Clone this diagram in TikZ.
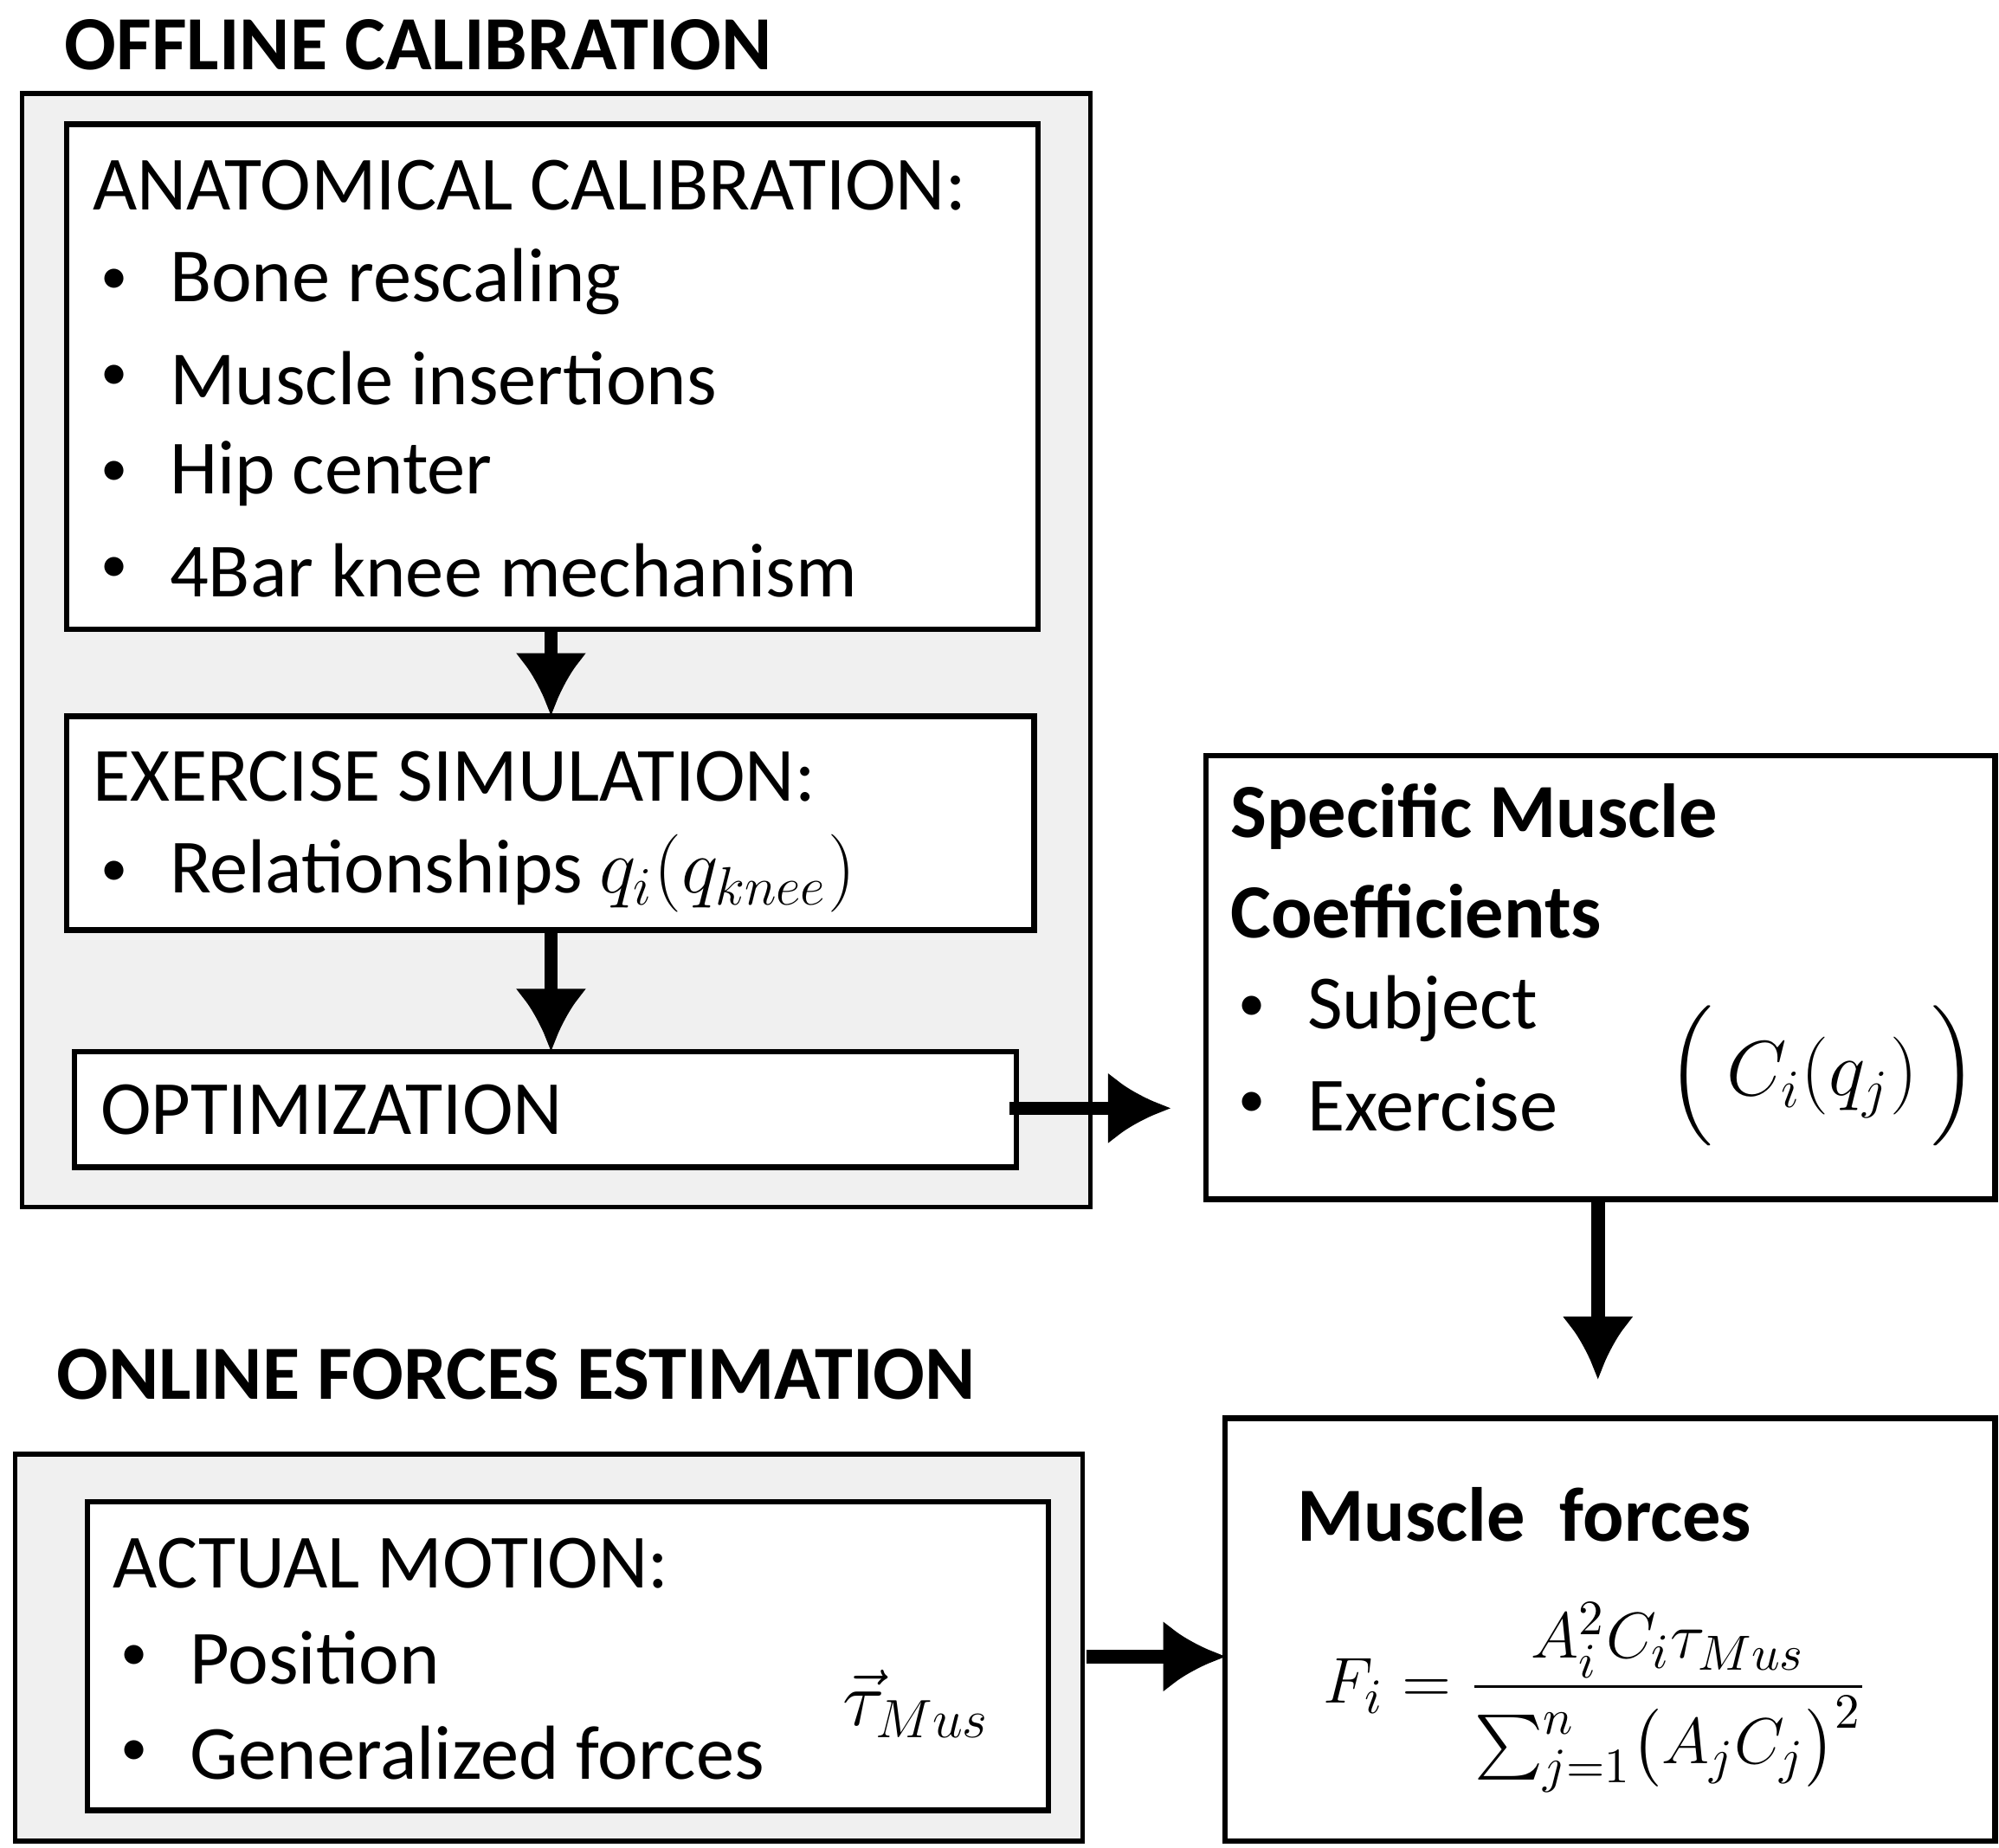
\documentclass[tikz,border=0pt]{standalone}
\usepackage{fontspec}
\setmainfont{Carlito}
\usepackage{amsmath}
\usetikzlibrary{arrows.meta}
\begin{document}
\begin{tikzpicture}[x=0.01cm,y=-0.01cm,
 box/.style={draw,line width=1.2pt,fill=white},
 gbox/.style={draw,line width=1pt,fill=gray!12},
 arr/.style={line width=3pt,-{Latex[length=14pt,width=16pt]}},
 txt/.style={anchor=west,font=\fontsize{17}{28}\selectfont,align=left},
 bul/.style={anchor=west,font=\fontsize{12}{14}\selectfont},
 ttl/.style={anchor=west,font=\fontsize{17}{20}\selectfont\bfseries}]
\useasboundingbox (0,0) rectangle (1560,1442);
\node[ttl] (t1) at (38,35) {OFFLINE CALIBRATION};
\draw[gbox] (17,73) rectangle (851,942);
\draw[box] (52,97) rectangle (810,491);
\node[txt] (anat) at (60,145) {ANATOMICAL CALIBRATION:};
\foreach \y/\t in {220/Bone rescaling,295/Muscle insertions,370/Hip center,445/4Bar knee mechanism}
 {\node[bul] at (66,\y) {•}; \node[txt] at (120,\y) {\t};}
\draw[box] (52,559) rectangle (807,726);
\node[txt] (ex) at (60,606) {EXERCISE SIMULATION:};
\node[bul] at (66,682) {•};
\node[txt] at (120,682) {Relationships $q_i(q_{knee})$};
\draw[box] (58,821) rectangle (793,911);
\node[txt] (opt) at (66,866) {OPTIMIZATION};
\coordinate (a1) at (430,491); \coordinate (a2) at (430,559);
\coordinate (a3) at (430,726); \coordinate (a4) at (430,821);
\draw[arr] (a1) -- (a2); \draw[arr] (a3) -- (a4);
\coordinate (o) at (788,865); \coordinate (s) at (914,865);
\draw[arr] (o) -- (s);
\draw[box] (941,590) rectangle (1557,936);
\node[ttl] at (948,637) {Specific Muscle};
\node[ttl] at (948,711) {Coefficients};
\node[bul] at (954,787) {•}; \node[txt] at (1008,787) {Subject};
\node[bul] at (954,862) {•}; \node[txt] at (1008,862) {Exercise};
\node[font=\fontsize{17}{20}\selectfont] at (1422,840) {$\left(\,C_i(q_j)\vphantom{\Big|}\,\right)$};
\coordinate (s1) at (1247,936); \coordinate (s2) at (1247,1077);
\draw[arr] (s1) -- (s2);
\node[ttl] at (32,1073) {ONLINE FORCES ESTIMATION};
\draw[gbox] (12,1135) rectangle (845,1437);
\draw[box] (68,1172) rectangle (818,1413);
\node[txt] at (76,1220) {ACTUAL MOTION:};
\node[bul] at (82,1294) {•}; \node[txt] at (136,1294) {Position};
\node[bul] at (82,1368) {•}; \node[txt] at (136,1368) {Generalized forces};
\node[font=\fontsize{17}{20}\selectfont] at (715,1330) {$\vec{\tau}_{Mus}$};
\coordinate (m1) at (848,1293); \coordinate (m2) at (957,1293);
\draw[arr] (m1) -- (m2);
\draw[box] (956,1107) rectangle (1557,1437);
\node[ttl] at (1000,1182) {Muscle\ \ forces};
\node[font=\fontsize{15}{18}\selectfont] at (1245,1325) {$F_i=\dfrac{A_i^2C_i\tau_{Mus}}{\sum_{j=1}^{n}\bigl(A_jC_j\bigr)^2}$};
\end{tikzpicture}
\end{document}
